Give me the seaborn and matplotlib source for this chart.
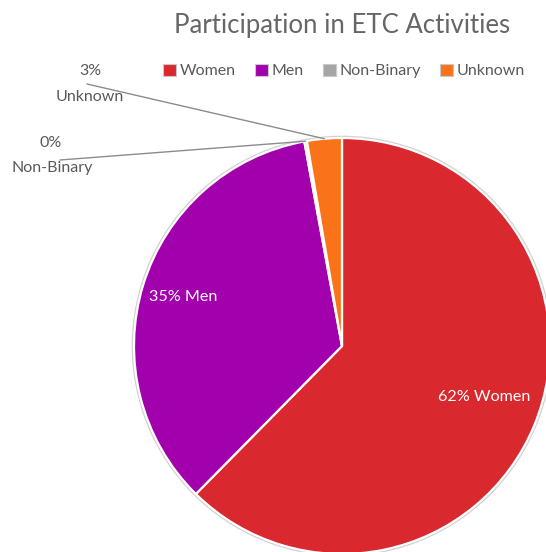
import matplotlib
matplotlib.use("Agg")
import matplotlib.pyplot as plt
import seaborn as sns
from matplotlib.patches import Patch
import numpy as np

categories = ["Women", "Men", "Non-Binary", "Unknown"]
values = [62.4, 34.7, 0.2, 2.7]
pct_labels = ["62%", "35%", "0%", "3%"]
colors = ["#D9292F", "#A300AD", "#A5A5A5", "#FA7319"]
title = "Participation in ETC Activities"

sns.set_theme(style="white")
plt.rcParams['font.family'] = ['Lato', 'DejaVu Sans']

W, H = 546, 552
CX, CY, R = 342, 346, 208
fig = plt.figure(figsize=(W / 100, H / 100), dpi=100)
ax = fig.add_axes([0, 0, 1, 1])

def px(x, y):
    return ((x - CX) / R, (CY - y) / R)

# faint outer ring
ax.add_patch(plt.Circle((0, 0), 1.006, facecolor="none", edgecolor="#d0d0d0", lw=1.5, zorder=0))

wedges, _ = ax.pie(values, colors=colors, startangle=90, counterclock=False,
                   radius=1, wedgeprops=dict(edgecolor="white", linewidth=1.6))
ax.set_aspect("auto")
ax.set_xlim(-CX / R, (W - CX) / R)
ax.set_ylim((CY - H) / R, CY / R)
ax.axis("off")

text_color = "#595959"
# inside labels
inside = {0: (484, 397), 1: (183, 297)}
for i, (x, y) in inside.items():
    ax.text(*px(x, y), f"{pct_labels[i]} {categories[i]}", color="white",
            fontsize=11.6, ha="center", va="center")

# outside labels with leader lines
outside = {3: ((90, 71), (90, 97), (87, 84)), 2: ((51, 143), (52, 168), (60, 160))}
for i, (p1, p2, ls) in outside.items():
    w = wedges[i]
    th = np.deg2rad((w.theta1 + w.theta2) / 2)
    ex, ey = np.cos(th), np.sin(th)
    sx, sy = px(*ls)
    ax.plot([sx, ex], [sy, ey], color="#8c8c8c", lw=1.0, zorder=3, clip_on=False)
    ax.text(*px(*p1), pct_labels[i], color=text_color, fontsize=11.5, ha="center", va="center")
    ax.text(*px(*p2), categories[i], color=text_color, fontsize=11.5, ha="center", va="center")

fig.text(342 / W, 1 - 25 / H, title, color="#666666", fontsize=18.5, ha="center", va="center")

handles = [Patch(facecolor=c, edgecolor="#c8c8c8", linewidth=0.8) for c in colors]
fig.legend(handles, categories, loc="center", bbox_to_anchor=(344 / W, 1 - 71 / H), ncol=4,
           frameon=False, handlelength=0.8, handleheight=0.8, handletextpad=0.25,
           columnspacing=1.2, fontsize=11.5, labelcolor=text_color)

fig.savefig("out.png", dpi=100)
